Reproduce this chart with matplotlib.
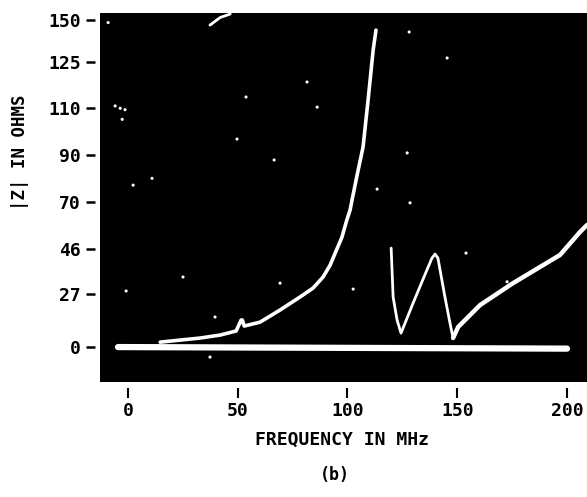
import numpy as np
import matplotlib
matplotlib.use("Agg")
import matplotlib.pyplot as plt

# ---- axis definitions (non-linear oscilloscope scale) ----
y_tick_vals = [0, 27, 46, 70, 90, 110, 125, 150]
y_tick_labels = ["0", "27", "46", "70", "90", "110", "125", "150"]
y_tick_pos = [0, 53, 98, 145, 192, 239, 285, 327]   # graticule positions
x_ticks = [0, 50, 100, 150, 200]
x_tick_labels = ["0", "50", "100", "150", "200"]

# ---- traces (MHz, ohms) ----
base_f = [-4.5, 200.0]
base_z = [0.0, -0.8]

main_f = [14.7, 32.9, 42.0, 49.3, 51.6, 52.1, 53.0, 60.2, 69.2, 78.4, 84.3, 88.9,
          92.1, 97.5, 99.7, 101.2, 102.1, 104.4, 107.1, 109.4, 111.7, 113.0]
main_z = [2.5, 4.6, 6.1, 8.2, 13.8, 13.8, 10.7, 12.7, 18.8, 25.5, 29.5, 34.2,
          39.2, 52.1, 60.8, 65.9, 70.9, 81.5, 93.4, 112.6, 132.1, 144.0]

w_f = [119.9, 120.8, 122.6, 124.4, 129.9, 136.2, 138.5, 139.9, 141.2, 144.4, 146.7, 148.1]
w_z = [46.5, 25.5, 13.8, 7.1, 22.4, 37.2, 42.2, 43.9, 42.2, 25.5, 12.2, 4.6]

rise_f = [148.1, 150.4, 160.4, 175.4, 196.8, 205.9, 209.1]
rise_z = [4.6, 10.2, 21.4, 31.6, 43.5, 54.7, 58.3]

arc_f = [37.4, 42.0, 46.6]
arc_z = [147.0, 151.5, 153.6]

speck_f = [81.6, 53.8, 49.7, 86.2, 66.6, 127.2, 128.1, 113.5, 2.4, 145.4, 25.1,
           -0.8, 39.7, 37.4, 69.3, 102.6, 128.5, 154.0, 172.7, 11.0, -5.8, -3.5,
           -1.3, -2.6, -9.0]
speck_z = [118.5, 113.6, 96.8, 110.3, 87.9, 90.9, 142.9, 75.5, 77.2, 127.4, 34.2,
           28.3, 15.3, -5.1, 31.6, 29.1, 69.6, 44.3, 32.2, 80.1, 110.7, 109.9,
           109.3, 105.2, 148.5]

# ---- scale functions ----
_v = np.array(y_tick_vals, float)
_h = np.array(y_tick_pos, float)
_s0 = (_h[1] - _h[0]) / (_v[1] - _v[0])
_s1 = (_h[-1] - _h[-2]) / (_v[-1] - _v[-2])


def fwd(v):
    v = np.asarray(v, float)
    h = np.interp(v, _v, _h)
    h = np.where(v < _v[0], _h[0] + (v - _v[0]) * _s0, h)
    h = np.where(v > _v[-1], _h[-1] + (v - _v[-1]) * _s1, h)
    return h


def inv(h):
    h = np.asarray(h, float)
    v = np.interp(h, _h, _v)
    v = np.where(h < _h[0], _v[0] + (h - _h[0]) / _s0, v)
    v = np.where(h > _h[-1], _v[-1] + (h - _h[-1]) / _s1, v)
    return v


W, H = 587, 497
fig = plt.figure(figsize=(W / 100, H / 100), dpi=100)
fig.patch.set_facecolor("white")
ax = fig.add_axes([100 / W, 1 - 382 / H, 487 / W, (382 - 13) / H])
ax.set_facecolor("black")
ax.set_yscale("function", functions=(fwd, inv))
ax.set_xlim(-12.7, 209.1)
ax.set_ylim(-17.8, 154.2)

for s in ax.spines.values():
    s.set_visible(False)
ax.spines["left"].set_position(("outward", 3.6))
ax.spines["bottom"].set_position(("outward", 4.3))

mono = ["DejaVu Sans Mono"]
ax.set_yticks(y_tick_vals)
ax.set_yticklabels(y_tick_labels, family=mono, fontweight="bold", fontsize=13)
ax.set_xticks(x_ticks)
ax.set_xticklabels(x_tick_labels, family=mono, fontweight="bold", fontsize=13)
ax.yaxis.set_minor_locator(matplotlib.ticker.NullLocator())
ax.tick_params(axis="y", length=6.5, width=1.8, pad=3.5, color="black")
ax.tick_params(axis="x", length=7.2, width=1.5, pad=3, color="black")

wc = "white"
ax.plot(base_f, base_z, color=wc, lw=4.5, solid_capstyle="round", zorder=3)
ax.plot(main_f, main_z, color=wc, lw=2.6, solid_capstyle="round",
        solid_joinstyle="round", zorder=4)
ax.plot(w_f, w_z, color=wc, lw=2.0, solid_capstyle="round",
        solid_joinstyle="round", zorder=4)
ax.plot(rise_f, rise_z, color=wc, lw=3.2, solid_capstyle="round",
        solid_joinstyle="round", zorder=4)
ax.plot(arc_f, arc_z, color=wc, lw=2.0, solid_capstyle="round", zorder=4)
ax.scatter(speck_f, speck_z, s=5, color=wc, edgecolors="none", zorder=2)

fig.text(20 / W, 1 - 152 / H, "|Z| IN OHMS", rotation=90, ha="center", va="center",
         family=mono, fontweight="bold", fontsize=12.5)
fig.text(342 / W, 1 - 440 / H, "FREQUENCY IN MHz", ha="center", va="center",
         family=mono, fontweight="bold", fontsize=13)
fig.text(335 / W, 1 - 475 / H, "(b)", ha="center", va="center",
         family=mono, fontweight="bold", fontsize=12)

fig.savefig("out.png", dpi=100)
